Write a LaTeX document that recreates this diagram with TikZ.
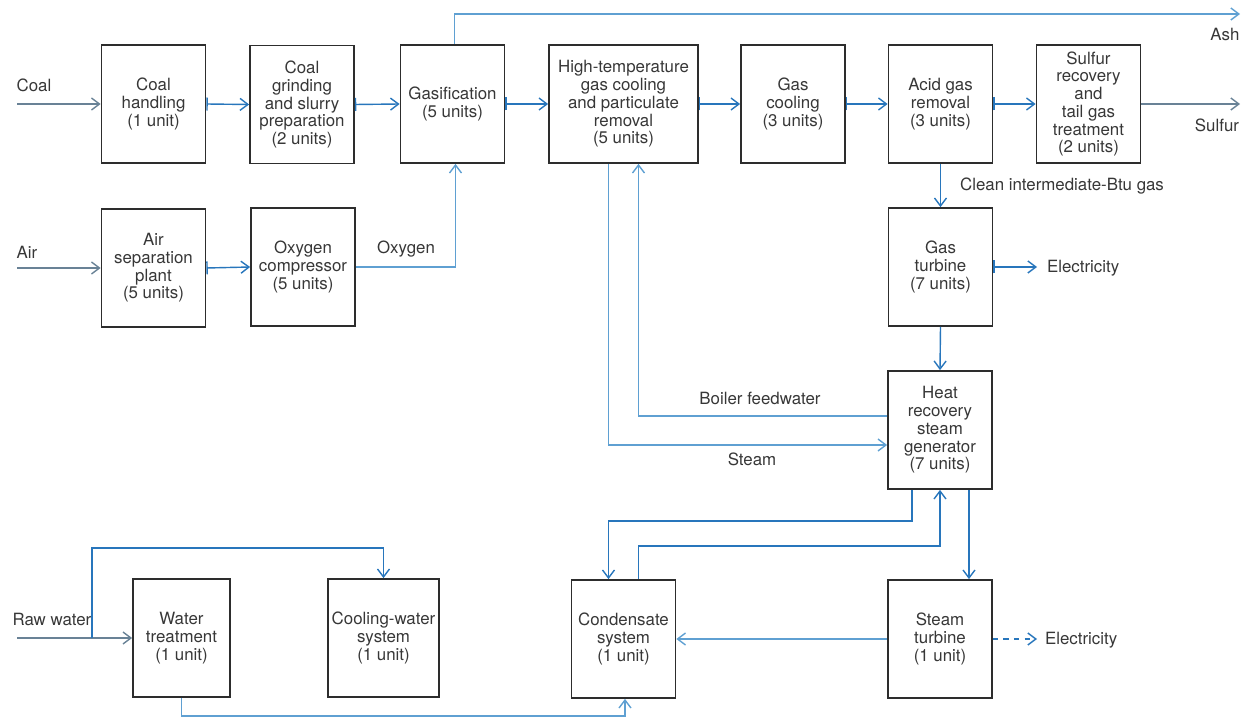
\documentclass[tikz,border=0pt]{standalone}
\usepackage{fontspec}
\setmainfont{TeX Gyre Heros}
\usepackage{tikz}
\usetikzlibrary{arrows.meta,calc}

\definecolor{boxgray}{RGB}{45,45,45}
\definecolor{txtgray}{RGB}{55,55,55}
\definecolor{flowblue}{RGB}{40,118,188}
\definecolor{paleblue}{RGB}{95,160,210}
\definecolor{feedgray}{RGB}{105,130,150}

\tikzset{
	unit/.style={draw=boxgray, line width=1pt, minimum width=2.08cm, minimum height=2.36cm, align=center, inner sep=1pt, text=txtgray},
	lbl/.style={text=txtgray, inner sep=1pt},
	flow/.style={draw=flowblue, line width=0.8pt, -{Straight Barb[length=1.6mm,width=2.4mm]}},
	barflow/.style={flow, {Bar[width=2.6mm]}-{Straight Barb[length=1.6mm,width=2.4mm]}},
	softflow/.style={flow, draw=paleblue},
	feed/.style={flow, draw=feedgray},
}

\begin{document}
\begin{tikzpicture}[x=0.02cm, y=-0.02cm, font=\fontsize{9.6pt}{10.1pt}\selectfont]
	\useasboundingbox (0,0) rectangle (1242,726);
	% Process units:
	\node[unit] (coalh) at (153.5,104) {Coal\\handling\\(1 unit)};
	\node[unit] (grind) at (302,104.5) {Coal\\grinding\\and slurry\\preparation\\(2 units)};
	\node[unit] (gasif) at (452.5,104) {Gasification\\(5 units)};
	\node[unit, minimum width=2.98cm] (htcool) at (623.5,104) {High-temperature\\gas cooling\\and particulate\\removal\\(5 units)};
	\node[unit] (gascool) at (793,104) {Gas\\cooling\\(3 units)};
	\node[unit] (acid) at (940.5,104) {Acid gas\\removal\\(3 units)};
	\node[unit] (sulfur) at (1088.5,104) {Sulfur\\recovery\\and\\tail gas\\treatment\\(2 units)};
	\node[unit] (airsep) at (153.5,268) {Air\\separation\\plant\\(5 units)};
	\node[unit] (oxycomp) at (303,267) {Oxygen\\compressor\\(5 units)};
	\node[unit] (gasturb) at (940.5,267) {Gas\\turbine\\(7 units)};
	\node[unit] (hrsg) at (940,430) {Heat\\recovery\\steam\\generator\\(7 units)};
	\node[unit] (cond) at (623.5,639) {Condensate\\system\\(1 unit)};
	\node[unit] (stturb) at (940,639) {Steam\\turbine\\(1 unit)};
	\node[unit, minimum width=1.94cm] (watert) at (181.5,638) {Water\\treatment\\(1 unit)};
	\node[unit, minimum width=2.22cm] (coolw) at (383.5,638) {Cooling-water\\system\\(1 unit)};

	% Free ends:
	\coordinate (coalin) at (17,104);
	\coordinate (airin) at (17,268);
	\coordinate (rawin) at (17,638);
	\coordinate (rawsplit) at (92,638);
	\coordinate (ashout) at (1240,14);
	\coordinate (sulfout) at (1240,104);
	\coordinate (elec1) at (1037,267);
	\coordinate (elec2) at (1037,639);

	% Labels:
	\node[lbl] (coallbl) at (34,85) {Coal};
	\node[lbl] (airlbl) at (27,252) {Air};
	\node[lbl] (rawlbl) at (52,619) {Raw water};
	\node[lbl] (oxylbl) at (406,249) {Oxygen};
	\node[lbl] (ashlbl) at (1225,34) {Ash};
	\node[lbl] (sulflbl) at (1217,125) {Sulfur};
	\node[lbl] (cleanlbl) at (1062,186) {Clean intermediate-Btu gas};
	\node[lbl, anchor=west] (eleclbl1) at (1045,268) {Electricity};
	\node[lbl, anchor=west] (eleclbl2) at (1043,640) {Electricity};
	\node[lbl] (bfwlbl) at (760,398) {Boiler feedwater};
	\node[lbl] (steamlbl) at (752,459) {Steam};

	% Main gas line:
	\draw[feed] (coalin) -- (coalh.west);
	\draw[barflow] (coalh.east) -- (grind.west);
	\draw[barflow] (grind.east) -- (gasif.west);
	\draw[barflow] (gasif.east) -- (htcool.west);
	\draw[barflow] (htcool.east) -- (gascool.west);
	\draw[barflow] (gascool.east) -- (acid.west);
	\draw[barflow] (acid.east) -- (sulfur.west);
	\draw[feed] (sulfur.east) -- (sulfout);
	\draw[softflow] ($(gasif.north)+(2,0)$) |- (ashout);

	% Oxygen:
	\draw[feed] (airin) -- (airsep.west);
	\draw[barflow] (airsep.east) -- (oxycomp.west);
	\draw[softflow] (oxycomp.east) -| ($(gasif.south)+(3,0)$);

	% Power block:
	\draw[flow] (acid.south) -- (gasturb.north);
	\draw[barflow] (gasturb.east) -- (elec1);
	\draw[flow] (gasturb.south) -- (hrsg.north);
	\draw[softflow] ([yshift=0.28cm]hrsg.west) -| ($(htcool.south)+(15,0)$);
	\draw[softflow] ($(htcool.south)+(-15,0)$) |- ([yshift=-0.3cm]hrsg.west);
	\draw[flow] ($(hrsg.south)+(-28,0)$) -- ++(0,31) -| ($(cond.north)+(-15,0)$);
	\draw[flow] ($(cond.north)+(15,0)$) -- ++(0,-33) -| (hrsg.south);
	\draw[flow] ($(hrsg.south)+(29,0)$) -- ($(stturb.north)+(29,0)$);
	\draw[softflow] (stturb.west) -- (cond.east);
	\draw[flow, dashed] (stturb.east) -- (elec2);

	% Water:
	\draw[feed] (rawin) -- (watert.west);
	\draw[flow] (rawsplit) -- ++(0,-90) -| (coolw.north);
	\draw[softflow] (watert.south) -- ++(0,18) -| ($(cond.south)+(1.5,0)$);
\end{tikzpicture}
\end{document}
